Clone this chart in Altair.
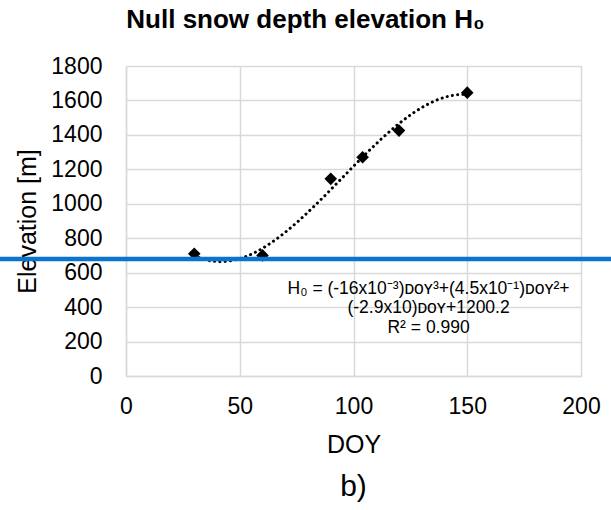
import altair as alt
import pandas as pd

# Observed null snow depth elevation by day of year
doy = [30, 60, 90, 104, 120, 150]
h0 = [710, 700, 1145, 1270, 1425, 1645]

# Horizontal reference level
threshold = [680]

x_ticks = [0, 50, 100, 150, 200]
y_ticks = [0, 200, 400, 600, 800, 1000, 1200, 1400, 1600, 1800]

title_text = "Null snow depth elevation H₀"
eq_lines = [
    "H₀ = (-16x10⁻³)ᴅᴏʏ³+(4.5x10⁻¹)ᴅᴏʏ²+",
    "(-2.9x10)ᴅᴏʏ+1200.2",
    "R² = 0.990",
]
eq_pos = {"DOY": [133], "H0": [508]}
panel_label = "b)"

FONT = "Liberation Sans"
GRID = "#d9d9d9"

df = pd.DataFrame({"DOY": doy, "H0": h0})
df_level = pd.DataFrame({"H0": threshold})
df_eq = pd.DataFrame(eq_pos)

x_enc = alt.X(
    "DOY:Q",
    title="DOY",
    scale=alt.Scale(domain=[0, 200], nice=False),
    axis=alt.Axis(values=x_ticks, ticks=False, labelFlush=False,
                  labelPadding=19, titlePadding=14),
)
y_enc = alt.Y(
    "H0:Q",
    title="Elevation [m]",
    scale=alt.Scale(domain=[0, 1800], nice=False),
    axis=alt.Axis(values=y_ticks, format="d", ticks=False, labelFlush=False,
                  labelPadding=24, titlePadding=10),
)

trend = (
    alt.Chart(df)
    .transform_regression("DOY", "H0", method="poly", order=3, extent=[30, 150])
    .mark_line(color="black", strokeWidth=3, strokeDash=[0.1, 5.2], strokeCap="round")
    .encode(x=x_enc, y=y_enc)
)

points = (
    alt.Chart(df)
    .mark_point(shape="diamond", filled=True, color="black", opacity=1, size=160)
    .encode(x=x_enc, y=y_enc)
)

level = (
    alt.Chart(df_level)
    .mark_rule(color="#0A74CF", strokeWidth=4.5, clip=False)
    .encode(y=y_enc, x=alt.value(-126), x2=alt.value(485))
)

equation = (
    alt.Chart(df_eq)
    .mark_text(text=eq_lines, font=FONT, fontSize=17.5, lineHeight=19.5,
               align="center", baseline="middle", color="black")
    .encode(x=x_enc, y=y_enc)
)

label = (
    alt.Chart(df_eq)
    .mark_text(text=panel_label, font=FONT, fontSize=30, align="center",
               baseline="middle", color="black")
    .encode(x=alt.value(227.5), y=alt.value(421))
)

chart = (
    alt.layer(trend, points, level, equation, label)
    .properties(
        width=455,
        height=310,
        padding={"left": 126, "top": 66, "right": 30, "bottom": 134},
        autosize=alt.AutoSizeParams(type="none"),
        title=alt.TitleParams(
            title_text, font=FONT, fontSize=26, fontWeight="bold",
            color="black", anchor="middle", dx=-48, offset=22,
        ),
    )
    .configure_view(stroke=None)
    .configure_axis(
        grid=True,
        gridColor=GRID,
        gridWidth=1.5,
        domainColor=GRID,
        domainWidth=1.5,
        labelFont=FONT,
        labelFontSize=23,
        labelColor="black",
        titleFont=FONT,
        titleFontSize=25,
        titleFontWeight="normal",
        titleColor="black",
    )
)

chart.save("out.html", embed_options={"renderer": "svg", "actions": False})
